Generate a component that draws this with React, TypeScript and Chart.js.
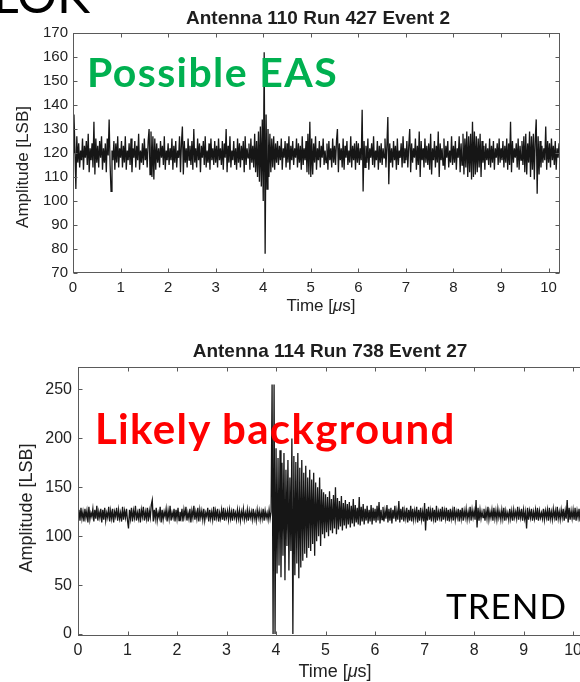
import React, { useEffect, useRef } from "react";
import { Chart, registerables } from "chart.js";

Chart.register(...registerables);

// ---------------- data ----------------
const SAMPLE_INTERVAL_US = 0.02;

const TOP_TITLE = "Antenna 110 Run 427 Event 2";
const BOTTOM_TITLE = "Antenna 114 Run 738 Event 27";

const X_TICKS = [0, 1, 2, 3, 4, 5, 6, 7, 8, 9, 10];
const TOP_Y_TICKS = [70, 80, 90, 100, 110, 120, 130, 140, 150, 160, 170];
const BOTTOM_Y_TICKS = [0, 50, 100, 150, 200, 250];

const TOP_X_RANGE = [0, 10.24];
const TOP_Y_RANGE = [70, 170];
const BOTTOM_X_RANGE = [0, 10.24];
const BOTTOM_Y_RANGE = [-2, 273];

// Antenna 110, one sample every 0.02 us (two lines = 1 us)
const TOP_AMPLITUDE = [
  120, 136, 122, 105, 127, 116, 124, 114, 121, 117, 126, 113, 123, 118, 125, 115, 128, 112, 122, 117, 124, 114, 133, 111, 126,
  116, 123, 114, 125, 118, 127, 113, 122, 116, 124, 112, 126, 119, 134, 115, 104, 121, 117, 125, 113, 124, 116, 127, 114, 122,
  118, 125, 114, 123, 116, 127, 113, 121, 117, 124, 115, 126, 112, 122, 118, 125, 114, 123, 117, 128, 113, 121, 116, 124, 115,
  126, 117, 122, 114, 125, 130, 111, 129, 110, 127, 109, 126, 113, 124, 116, 122, 114, 125, 118, 123, 115, 127, 113, 121, 117,
  124, 115, 122, 117, 126, 113, 123, 116, 125, 114, 121, 118, 127, 112, 124, 131, 111, 125, 116, 122, 114, 126, 117, 123, 115,
  125, 113, 130, 116, 122, 114, 126, 117, 124, 112, 123, 118, 125, 115, 127, 114, 121, 116, 124, 113, 126, 117, 122, 115, 125,
  116, 123, 114, 126, 117, 122, 115, 125, 113, 124, 118, 130, 112, 123, 116, 127, 114, 121, 117, 125, 115, 122, 113, 126, 116,
  124, 114, 123, 117, 125, 112, 127, 115, 122, 118, 124, 113, 126, 116, 123, 114, 128, 112, 125, 110, 129, 108, 131, 106, 134,
  100, 162, 78, 136, 105, 130, 110, 128, 112, 126, 114, 127, 113, 124, 116, 125, 115, 123, 117, 126, 113, 122, 118, 125, 114,
  124, 116, 127, 113, 123, 117, 125, 115, 122, 118, 126, 114, 124, 116, 123, 113, 127, 115, 122, 117, 125, 112, 128, 111, 133,
  110, 126, 111, 124, 116, 127, 113, 122, 117, 125, 114, 123, 118, 126, 115, 121, 116, 124, 113, 125, 117, 122, 114, 126, 116,
  123, 115, 125, 130, 112, 124, 117, 122, 114, 126, 113, 123, 118, 125, 115, 121, 116, 127, 114, 123, 117, 124, 113, 125, 116,
  124, 115, 122, 117, 138, 104, 125, 114, 123, 116, 126, 113, 122, 118, 124, 115, 127, 114, 121, 117, 125, 113, 123, 116, 124,
  115, 122, 118, 126, 114, 123, 135, 107, 124, 116, 122, 114, 125, 117, 123, 113, 126, 115, 121, 118, 124, 114, 127, 116, 122,
  117, 125, 114, 123, 130, 112, 124, 116, 122, 118, 126, 113, 123, 115, 129, 110, 125, 117, 122, 114, 126, 116, 123, 115, 124,
  113, 128, 111, 122, 117, 125, 114, 123, 116, 129, 110, 124, 117, 122, 115, 126, 113, 123, 118, 125, 114, 121, 116, 127, 115,
  123, 116, 125, 113, 122, 118, 127, 112, 124, 115, 128, 111, 126, 114, 129, 110, 127, 112, 128, 109, 133, 110, 129, 111, 127,
  112, 126, 114, 128, 110, 125, 116, 123, 113, 124, 117, 122, 115, 126, 114, 123, 116, 125, 113, 122, 118, 124, 115, 126, 116,
  122, 117, 125, 114, 123, 116, 126, 113, 124, 115, 133, 112, 125, 116, 122, 118, 124, 114, 126, 113, 123, 117, 125, 115, 127,
  112, 128, 111, 124, 116, 129, 110, 127, 113, 128, 109, 126, 134, 103, 127, 111, 125, 114, 123, 116, 122, 117, 131, 113, 125,
  116, 124, 114, 126, 117, 123, 115, 125, 113, 122, 118, 124, 119,
];

// Antenna 114, one sample every 0.02 us (two lines = 1 us)
const BOTTOM_AMPLITUDE = [
  122, 127, 116, 129, 118, 125, 115, 128, 119, 126, 114, 130, 117, 124, 120, 128, 115, 127, 118, 131, 116, 125, 119, 128, 114,
  127, 117, 129, 116, 124, 119, 130, 115, 126, 118, 128, 114, 125, 120, 129, 116, 127, 118, 124, 115, 130, 117, 126, 119, 128,
  116, 108, 127, 118, 129, 115, 126, 119, 131, 116, 124, 118, 128, 114, 127, 120, 130, 116, 125, 118, 129, 115, 126, 119, 132,
  137, 115, 127, 118, 129, 116, 124, 119, 130, 114, 127, 117, 125, 120, 128, 115, 126, 118, 131, 116, 124, 119, 128, 115, 127,
  118, 129, 116, 125, 119, 128, 115, 127, 120, 130, 116, 124, 118, 128, 114, 126, 119, 131, 117, 125, 118, 129, 115, 127, 119,
  126, 117, 128, 116, 124, 120, 129, 115, 127, 118, 125, 117, 130, 116, 126, 119, 128, 115, 124, 118, 127, 117, 129, 116, 125,
  119, 126, 117, 127, 118, 125, 116, 128, 119, 124, 117, 127, 118, 126, 116, 125, 119, 128, 117, 124, 118, 127, 116, 126, 119,
  125, 117, 128, 118, 124, 116, 127, 119, 126, 117, 125, 118, 128, 116, 126, 119, 124, 117, 127, 118, 125, 255, 0, 255, 0,
  190, 62, 180, 70, 188, 58, 175, 80, 185, 55, 168, 90, 178, 65, 160, 85, 200, 0, 182, 60, 176, 72, 185, 57, 170,
  68, 178, 75, 165, 82, 172, 78, 160, 88, 168, 85, 158, 92, 165, 80, 155, 95, 150, 100, 160, 90, 148, 102, 145, 98,
  143, 104, 140, 100, 146, 106, 138, 103, 142, 108, 150, 102, 139, 107, 136, 110, 141, 106, 134, 111, 137, 108, 133, 112, 135,
  109, 131, 113, 138, 110, 132, 114, 129, 112, 140, 111, 130, 115, 133, 112, 128, 116, 131, 113, 127, 115, 132, 112, 129, 116,
  128, 114, 131, 116, 135, 113, 127, 117, 130, 115, 126, 118, 132, 114, 128, 116, 129, 113, 127, 118, 131, 115, 126, 117, 136,
  114, 128, 117, 130, 115, 126, 118, 129, 114, 127, 116, 131, 115, 128, 117, 126, 118, 130, 114, 127, 116, 129, 117, 125, 115,
  134, 106, 128, 116, 130, 117, 126, 115, 129, 118, 127, 114, 131, 116, 125, 119, 128, 115, 130, 117, 126, 118, 129, 116, 127,
  115, 128, 118, 126, 116, 130, 117, 125, 119, 128, 115, 127, 118, 129, 116, 126, 119, 128, 117, 125, 118, 130, 116, 127, 119,
  126, 117, 137, 109, 129, 116, 127, 118, 125, 119, 128, 116, 126, 118, 130, 117, 125, 119, 127, 116, 129, 118, 126, 117, 128,
  119, 125, 117, 127, 118, 129, 116, 126, 119, 124, 117, 128, 118, 126, 116, 127, 119, 125, 118, 130, 117, 126, 119, 128, 116,
  127, 118, 125, 108, 129, 117, 126, 119, 128, 116, 125, 118, 127, 117, 129, 116, 126, 119, 124, 118, 128, 117, 126, 119, 127,
  116, 129, 118, 125, 117, 128, 119, 126, 116, 130, 118, 125, 117, 127, 119, 128, 116, 126, 118, 137, 114, 129, 117, 126, 118,
  127, 117, 129, 116, 126, 119, 128, 115, 127, 118, 130, 117, 125,
];

// ---------------- plugin: matlab style box with inward ticks ----------------
const boxPlugin = {
  id: "matlabBox",
  afterDatasetsDraw(chart: any, _args: any, opts: any) {
    const { ctx, chartArea: a, scales } = chart;
    const L = Math.round(a.left) + 0.5;
    const R = Math.round(a.right) - 0.5;
    const T = Math.round(a.top) + 0.5;
    const B = Math.round(a.bottom) - 0.5;
    const len = opts.tickLength ?? 4;
    ctx.save();
    ctx.strokeStyle = opts.color || "#555";
    ctx.lineWidth = 1;
    ctx.strokeRect(L, T, R - L, B - T);
    ctx.beginPath();
    scales.x.ticks.forEach((t: any) => {
      const px = Math.round(scales.x.getPixelForValue(t.value)) + 0.5;
      ctx.moveTo(px, B);
      ctx.lineTo(px, B - len);
      ctx.moveTo(px, T);
      ctx.lineTo(px, T + len);
    });
    scales.y.ticks.forEach((t: any) => {
      const py = Math.round(scales.y.getPixelForValue(t.value)) + 0.5;
      ctx.moveTo(L, py);
      ctx.lineTo(L + len, py);
      ctx.moveTo(R, py);
      ctx.lineTo(R - len, py);
    });
    ctx.stroke();
    ctx.restore();
  },
};

type PanelProps = {
  top: number;
  width: number;
  height: number;
  values: number[];
  xRange: number[];
  yRange: number[];
  yTicks: number[];
  yAxisWidth: number;
  xAxisHeight: number;
  padding: { top: number; right: number; bottom: number };
  fontSize: number;
  xPad: number;
  yPad: number;
};

function Panel(p: PanelProps) {
  const ref = useRef<HTMLCanvasElement | null>(null);
  useEffect(() => {
    if (!ref.current) return;
    const font = { family: "'Liberation Sans', Arial, sans-serif", size: p.fontSize };
    const chart = new Chart(ref.current, {
      type: "line",
      data: {
        datasets: [
          {
            data: p.values.map((v, i) => ({ x: i * SAMPLE_INTERVAL_US, y: v })),
            borderColor: "#161616",
            borderWidth: 1.3,
            pointRadius: 0,
            tension: 0,
            fill: false,
          },
        ],
      },
      options: {
        responsive: false,
        animation: false,
        events: [],
        layout: { padding: { left: 0, top: p.padding.top, right: p.padding.right, bottom: p.padding.bottom } },
        plugins: {
          legend: { display: false },
          tooltip: { enabled: false },
          title: { display: false },
          // @ts-ignore
          matlabBox: { color: "#5a5a5a", tickLength: 4 },
        },
        scales: {
          x: {
            type: "linear",
            min: p.xRange[0],
            max: p.xRange[1],
            grid: { display: false, drawTicks: false },
            border: { display: false },
            ticks: { autoSkip: false, maxRotation: 0, padding: p.xPad, font, color: "#222" },
            afterBuildTicks: (s: any) => {
              s.ticks = X_TICKS.map((v) => ({ value: v }));
            },
            afterFit: (s: any) => {
              s.height = p.xAxisHeight;
            },
          },
          y: {
            type: "linear",
            min: p.yRange[0],
            max: p.yRange[1],
            grid: { display: false, drawTicks: false },
            border: { display: false },
            ticks: { autoSkip: false, padding: p.yPad, font, color: "#222" },
            afterBuildTicks: (s: any) => {
              s.ticks = p.yTicks.map((v) => ({ value: v }));
            },
            afterFit: (s: any) => {
              s.width = p.yAxisWidth;
            },
          },
        },
      },
      plugins: [boxPlugin],
    } as any);
    return () => chart.destroy();
  }, []);
  return (
    <canvas
      ref={ref}
      width={p.width}
      height={p.height}
      style={{ position: "absolute", left: 0, top: p.top, width: p.width, height: p.height, display: "block" }}
    />
  );
}

const labelFont = "'Liberation Sans', Arial, sans-serif";
const calloutFont = "Lato, 'Open Sans', sans-serif";

const abs = (s: React.CSSProperties): React.CSSProperties => ({
  position: "absolute",
  whiteSpace: "nowrap",
  lineHeight: 1,
  margin: 0,
  ...s,
});

export default function App() {
  return (
    <div
      style={{
        position: "absolute",
        left: 0,
        top: 0,
        width: 580,
        height: 682,
        overflow: "hidden",
        background: "#fff",
      }}
    >
      <Panel
        top={0}
        width={580}
        height={320}
        values={TOP_AMPLITUDE}
        xRange={TOP_X_RANGE}
        yRange={TOP_Y_RANGE}
        yTicks={TOP_Y_TICKS}
        yAxisWidth={73}
        xAxisHeight={40}
        padding={{ top: 33, right: 20, bottom: 7 }}
        fontSize={15}
        xPad={6}
        yPad={5}
      />
      <Panel
        top={330}
        width={600}
        height={352}
        values={BOTTOM_AMPLITUDE}
        xRange={BOTTOM_X_RANGE}
        yRange={BOTTOM_Y_RANGE}
        yTicks={BOTTOM_Y_TICKS}
        yAxisWidth={78}
        xAxisHeight={40}
        padding={{ top: 37, right: 15, bottom: 6 }}
        fontSize={16}
        xPad={5}
        yPad={6}
      />

      {/* partially visible slide heading */}
      <div style={abs({ left: -7, top: -31, fontFamily: calloutFont, fontSize: 50, color: "#000" })}>LOK</div>

      {/* chart titles */}
      <div style={abs({ left: 318, top: 8, transform: "translateX(-50%)", fontFamily: labelFont, fontWeight: "bold", fontSize: 19, color: "#1e1e1e" })}>
        {TOP_TITLE}
      </div>
      <div style={abs({ left: 330, top: 341, transform: "translateX(-50%)", fontFamily: labelFont, fontWeight: "bold", fontSize: 19, color: "#1e1e1e" })}>
        {BOTTOM_TITLE}
      </div>

      {/* axis titles */}
      <div style={abs({ left: 22, top: 167, transform: "translate(-50%,-50%) rotate(-90deg)", fontFamily: labelFont, fontSize: 17, color: "#222" })}>
        Amplitude [LSB]
      </div>
      <div style={abs({ left: 26, top: 508, transform: "translate(-50%,-50%) rotate(-90deg)", fontFamily: labelFont, fontSize: 18, color: "#222" })}>
        Amplitude [LSB]
      </div>
      <div style={abs({ left: 321, top: 297, transform: "translateX(-50%)", fontFamily: labelFont, fontSize: 17, color: "#222" })}>
        Time [<span style={{ fontStyle: "italic" }}>μ</span>s]
      </div>
      <div style={abs({ left: 335, top: 662, transform: "translateX(-50%)", fontFamily: labelFont, fontSize: 18, color: "#222" })}>
        Time [<span style={{ fontStyle: "italic" }}>μ</span>s]
      </div>

      {/* callouts */}
      <div style={abs({ left: 87, top: 51, fontFamily: calloutFont, fontWeight: 700, fontSize: 41, letterSpacing: 1.4, color: "#00B050" })}>
        Possible EAS
      </div>
      <div style={abs({ left: 95, top: 407, fontFamily: calloutFont, fontWeight: 700, fontSize: 42, letterSpacing: 1.3, color: "#FF0000" })}>
        Likely background
      </div>
      <div style={abs({ left: 446, top: 588, fontFamily: calloutFont, fontWeight: 400, fontSize: 35, letterSpacing: 1, color: "#000" })}>
        TREND
      </div>
    </div>
  );
}
